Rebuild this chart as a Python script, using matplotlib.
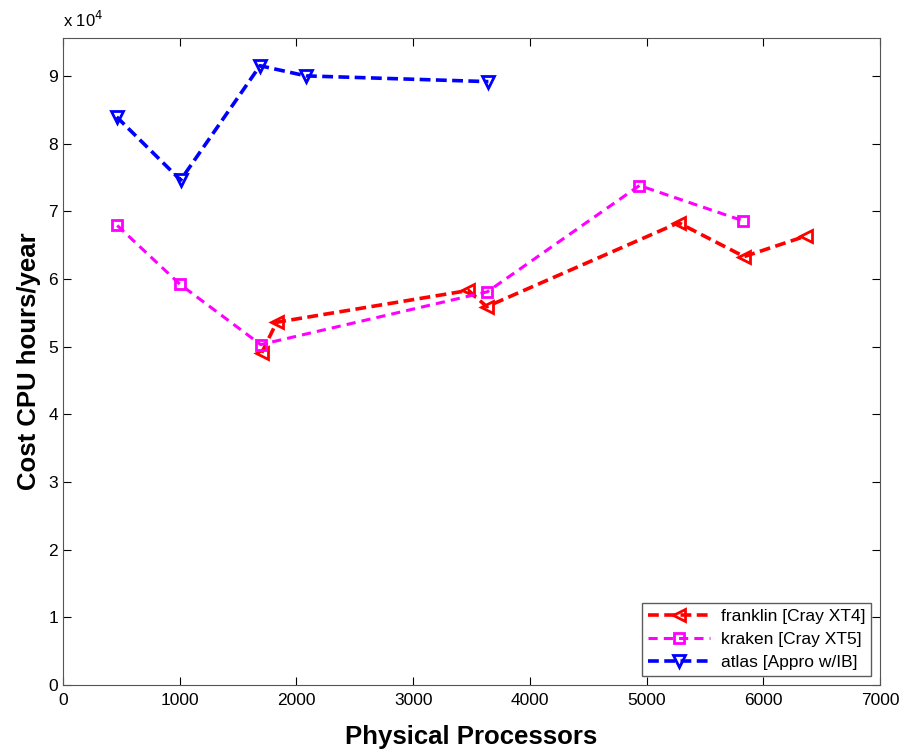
import matplotlib.pyplot as plt

plt.rcParams['font.family'] = ['Liberation Sans', 'DejaVu Sans']

# values (processors, cost in CPU hours/year)
franklin_x = [1703, 1831, 3474, 3631, 5274, 5836, 6367]
franklin_y = [49100, 53600, 58300, 55900, 68300, 63300, 66350]
kraken_x = [465, 1003, 1694, 3636, 4939, 5825]
kraken_y = [67900, 59200, 50300, 58100, 73800, 68600]
atlas_x = [460, 1008, 1688, 2082, 3645]
atlas_y = [83940, 74600, 91500, 90000, 89150]
labels = ['franklin [Cray XT4]', 'kraken [Cray XT5]', 'atlas [Appro w/IB]']

fig = plt.figure(figsize=(9.02, 7.49), dpi=100)
ax = fig.add_axes([0.0698, 0.0854, 0.9058, 0.8639])

# plotted in units of 1e4 like the original
ax.plot(franklin_x, [v / 1e4 for v in franklin_y], '--', color='red', lw=2.6,
        marker='<', ms=8, mfc='none', mew=2, label=labels[0], dashes=(3, 1.5))
ax.plot(kraken_x, [v / 1e4 for v in kraken_y], '--', color='magenta', lw=2.2,
        marker='s', ms=7, mfc='none', mew=2, label=labels[1], dashes=(3, 2))
ax.plot(atlas_x, [v / 1e4 for v in atlas_y], '--', color='blue', lw=2.6,
        marker='v', ms=8, mfc='none', mew=2, label=labels[2], dashes=(3, 1.5))

ax.set_xlim(0, 7000)
ax.set_ylim(0, 9.56)
ax.set_xticks(range(0, 7001, 1000))
ax.set_yticks(range(0, 10))
ax.tick_params(direction='in', top=True, right=True, labelsize=12.5, length=6)
ax.tick_params(axis='x', pad=6)
for s in ax.spines.values():
    s.set_color('#555555')

ax.set_xlabel('Physical Processors', fontsize=18.5, fontweight='bold', labelpad=12)
ax.set_ylabel('Cost CPU hours/year', fontsize=18.5, fontweight='bold', labelpad=5)
ax.text(0, 1.012, r'x 10$^4$', transform=ax.transAxes, fontsize=12, va='bottom')

leg = ax.legend(loc='lower right', fontsize=12.5, fancybox=False, edgecolor='#333333',
                borderpad=0.35, handlelength=3.6, labelspacing=0.45, borderaxespad=0.5,
                handletextpad=0.6)
leg.get_frame().set_linewidth(1)

plt.savefig('out.png', dpi=100)
